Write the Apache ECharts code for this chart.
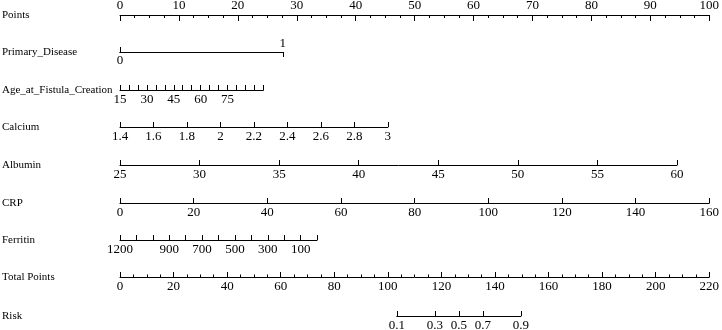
<!DOCTYPE html>
<html>
<head>
<meta charset="utf-8">
<script src="https://cdn.jsdelivr.net/npm/echarts@6/dist/echarts.min.js"></script>
<style>html,body{margin:0;padding:0;background:#fff}#chart{width:722px;height:330px}</style>
</head>
<body>
<div id="chart"></div>
<script>
// ---- data ----
const rowNames = ['Points', 'Primary_Disease', 'Age_at_Fistula_Creation', 'Calcium', 'Albumin', 'CRP', 'Ferritin', 'Total Points', 'Risk'];

const pointsTicks = [0, 10, 20, 30, 40, 50, 60, 70, 80, 90, 100];

const primaryValues = [0, 1];
const primaryPoints = [0, 27.6];

const ageRange = [15, 95];
const agePoints = [0, 24.3];
const ageTicks = [15, 20, 25, 30, 35, 40, 45, 50, 55, 60, 65, 70, 75, 80, 85, 90, 95];
const ageLabels = [15, 30, 45, 60, 75];

const calciumRange = [1.4, 3];
const calciumPoints = [0, 45.4];
const calciumTicks = [1.4, 1.6, 1.8, 2, 2.2, 2.4, 2.6, 2.8, 3];

const albuminRange = [25, 60];
const albuminPoints = [0, 94.4];
const albuminTicks = [25, 30, 35, 40, 45, 50, 55, 60];

const crpRange = [0, 160];
const crpPoints = [0, 100];
const crpTicks = [0, 20, 40, 60, 80, 100, 120, 140, 160];

const ferritinRange = [1200, 0];
const ferritinPoints = [0, 33.4];
const ferritinTicks = [1200, 1100, 1000, 900, 800, 700, 600, 500, 400, 300, 200, 100, 0];
const ferritinLabels = [1200, 900, 700, 500, 300, 100];

const totalTicks = [0, 20, 40, 60, 80, 100, 120, 140, 160, 180, 200, 220];

const riskValues = [0.1, 0.3, 0.5, 0.7, 0.9];
const riskTotalPoints = [103.2, 117.4, 126.4, 135.3, 149.5];

// ---- layout ----
const X0 = 120, X1 = 710;
const PX = (X1 - X0) / 100;   // px per point
const TPX = (X1 - X0) / 220;  // px per total point
const rowY = [15, 52, 90, 127, 165, 203, 240, 277, 316];
const FONT = 'Liberation Serif';
const lineStyle = { color: '#000', width: 1 };
const labelBase = { color: '#000', fontFamily: FONT, fontSize: 13, margin: 3, showMinLabel: true, showMaxLabel: true, hideOverlap: false };

const grids = [], xAxes = [], yAxes = [];

function addGrid(left, width, top) {
  grids.push({ left: left, width: width, top: top, height: 0, containLabel: false });
  yAxes.push({ gridIndex: grids.length - 1, show: false, min: 0, max: 1 });
  return grids.length - 1;
}

function fmt(v) { return String(+v.toFixed(4)); }

// Points row: ticks hang down, labels above
(function () {
  const g = addGrid(X0, X1 - X0, rowY[0]);
  xAxes.push({
    gridIndex: g, type: 'value', position: 'bottom', min: 0, max: 100, interval: 10,
    axisLine: { show: true, lineStyle: lineStyle },
    axisTick: { show: true, inside: false, length: 6, lineStyle: lineStyle, customValues: pointsTicks },
    minorTick: { show: true, splitNumber: 4, length: 3, lineStyle: lineStyle },
    axisLabel: Object.assign({}, labelBase, { formatter: fmt, inside: true, margin: 3, customValues: pointsTicks }),
    splitLine: { show: false }
  });
})();

// Primary disease row (two axes sharing the line)
(function () {
  const g = addGrid(X0 + primaryPoints[0] * PX, (primaryPoints[1] - primaryPoints[0]) * PX, rowY[1]);
  xAxes.push({
    gridIndex: g, type: 'value', position: 'bottom', min: primaryValues[0], max: primaryValues[1],
    axisLine: { show: true, lineStyle: lineStyle },
    axisTick: { show: true, inside: true, length: 5, lineStyle: lineStyle, customValues: [primaryValues[0]] },
    axisLabel: Object.assign({}, labelBase, { formatter: fmt, customValues: [primaryValues[0]], margin: 2 }),
    splitLine: { show: false }
  });
  xAxes.push({
    gridIndex: g, type: 'value', position: 'top', min: primaryValues[0], max: primaryValues[1],
    axisLine: { show: true, lineStyle: lineStyle },
    axisTick: { show: true, inside: true, length: 5, lineStyle: lineStyle, customValues: [primaryValues[1]] },
    axisLabel: Object.assign({}, labelBase, { formatter: fmt, customValues: [primaryValues[1]], margin: 2 }),
    splitLine: { show: false }
  });
})();

function addVarRow(rowIdx, range, pts, ticks, labels) {
  const g = addGrid(X0 + pts[0] * PX, (pts[1] - pts[0]) * PX, rowY[rowIdx]);
  xAxes.push({
    gridIndex: g, type: 'value', position: 'bottom',
    min: Math.min(range[0], range[1]), max: Math.max(range[0], range[1]),
    inverse: range[0] > range[1],
    axisLine: { show: true, lineStyle: lineStyle },
    axisTick: { show: true, inside: true, length: 5, lineStyle: lineStyle, customValues: ticks },
    axisLabel: Object.assign({}, labelBase, { formatter: fmt, customValues: labels }),
    splitLine: { show: false }
  });
}

addVarRow(2, ageRange, agePoints, ageTicks, ageLabels);
addVarRow(3, calciumRange, calciumPoints, calciumTicks, calciumTicks);
addVarRow(4, albuminRange, albuminPoints, albuminTicks, albuminTicks);
addVarRow(5, crpRange, crpPoints, crpTicks, crpTicks);
addVarRow(6, ferritinRange, ferritinPoints, ferritinTicks, ferritinLabels);

// Total points row: ticks point up, labels below
(function () {
  const g = addGrid(X0, X1 - X0, rowY[7]);
  xAxes.push({
    gridIndex: g, type: 'value', position: 'top', min: 0, max: 220, interval: 20,
    axisLine: { show: true, lineStyle: lineStyle },
    axisTick: { show: true, inside: false, length: 5, lineStyle: lineStyle, customValues: totalTicks },
    minorTick: { show: true, splitNumber: 4, length: 2.5, lineStyle: lineStyle },
    axisLabel: Object.assign({}, labelBase, { formatter: fmt, inside: true, customValues: totalTicks }),
    splitLine: { show: false }
  });
})();

// Risk row
(function () {
  const a = riskTotalPoints[0], b = riskTotalPoints[riskTotalPoints.length - 1];
  const g = addGrid(X0 + a * TPX, (b - a) * TPX, rowY[8]);
  xAxes.push({
    gridIndex: g, type: 'value', position: 'bottom', min: a, max: b,
    axisLine: { show: true, lineStyle: lineStyle },
    axisTick: { show: true, inside: true, length: 5, lineStyle: lineStyle, customValues: riskTotalPoints },
    axisLabel: Object.assign({}, labelBase, {
      customValues: riskTotalPoints,
      formatter: function (v) {
        let best = 0;
        riskTotalPoints.forEach(function (p, i) { if (Math.abs(p - v) < Math.abs(riskTotalPoints[best] - v)) best = i; });
        return String(riskValues[best]);
      }
    }),
    splitLine: { show: false }
  });
})();

const graphic = rowNames.map(function (name, i) {
  return {
    type: 'text', left: 2, top: rowY[i] - 5,
    style: { text: name, fill: '#000', font: '11px "' + FONT + '"' }
  };
});

const chart = echarts.init(document.getElementById('chart'), null, { renderer: 'canvas' });
chart.setOption({
  animation: false,
  backgroundColor: '#fff',
  textStyle: { fontFamily: FONT },
  grid: grids,
  xAxis: xAxes,
  yAxis: yAxes,
  graphic: graphic,
  series: []
});
</script>
</body>
</html>
